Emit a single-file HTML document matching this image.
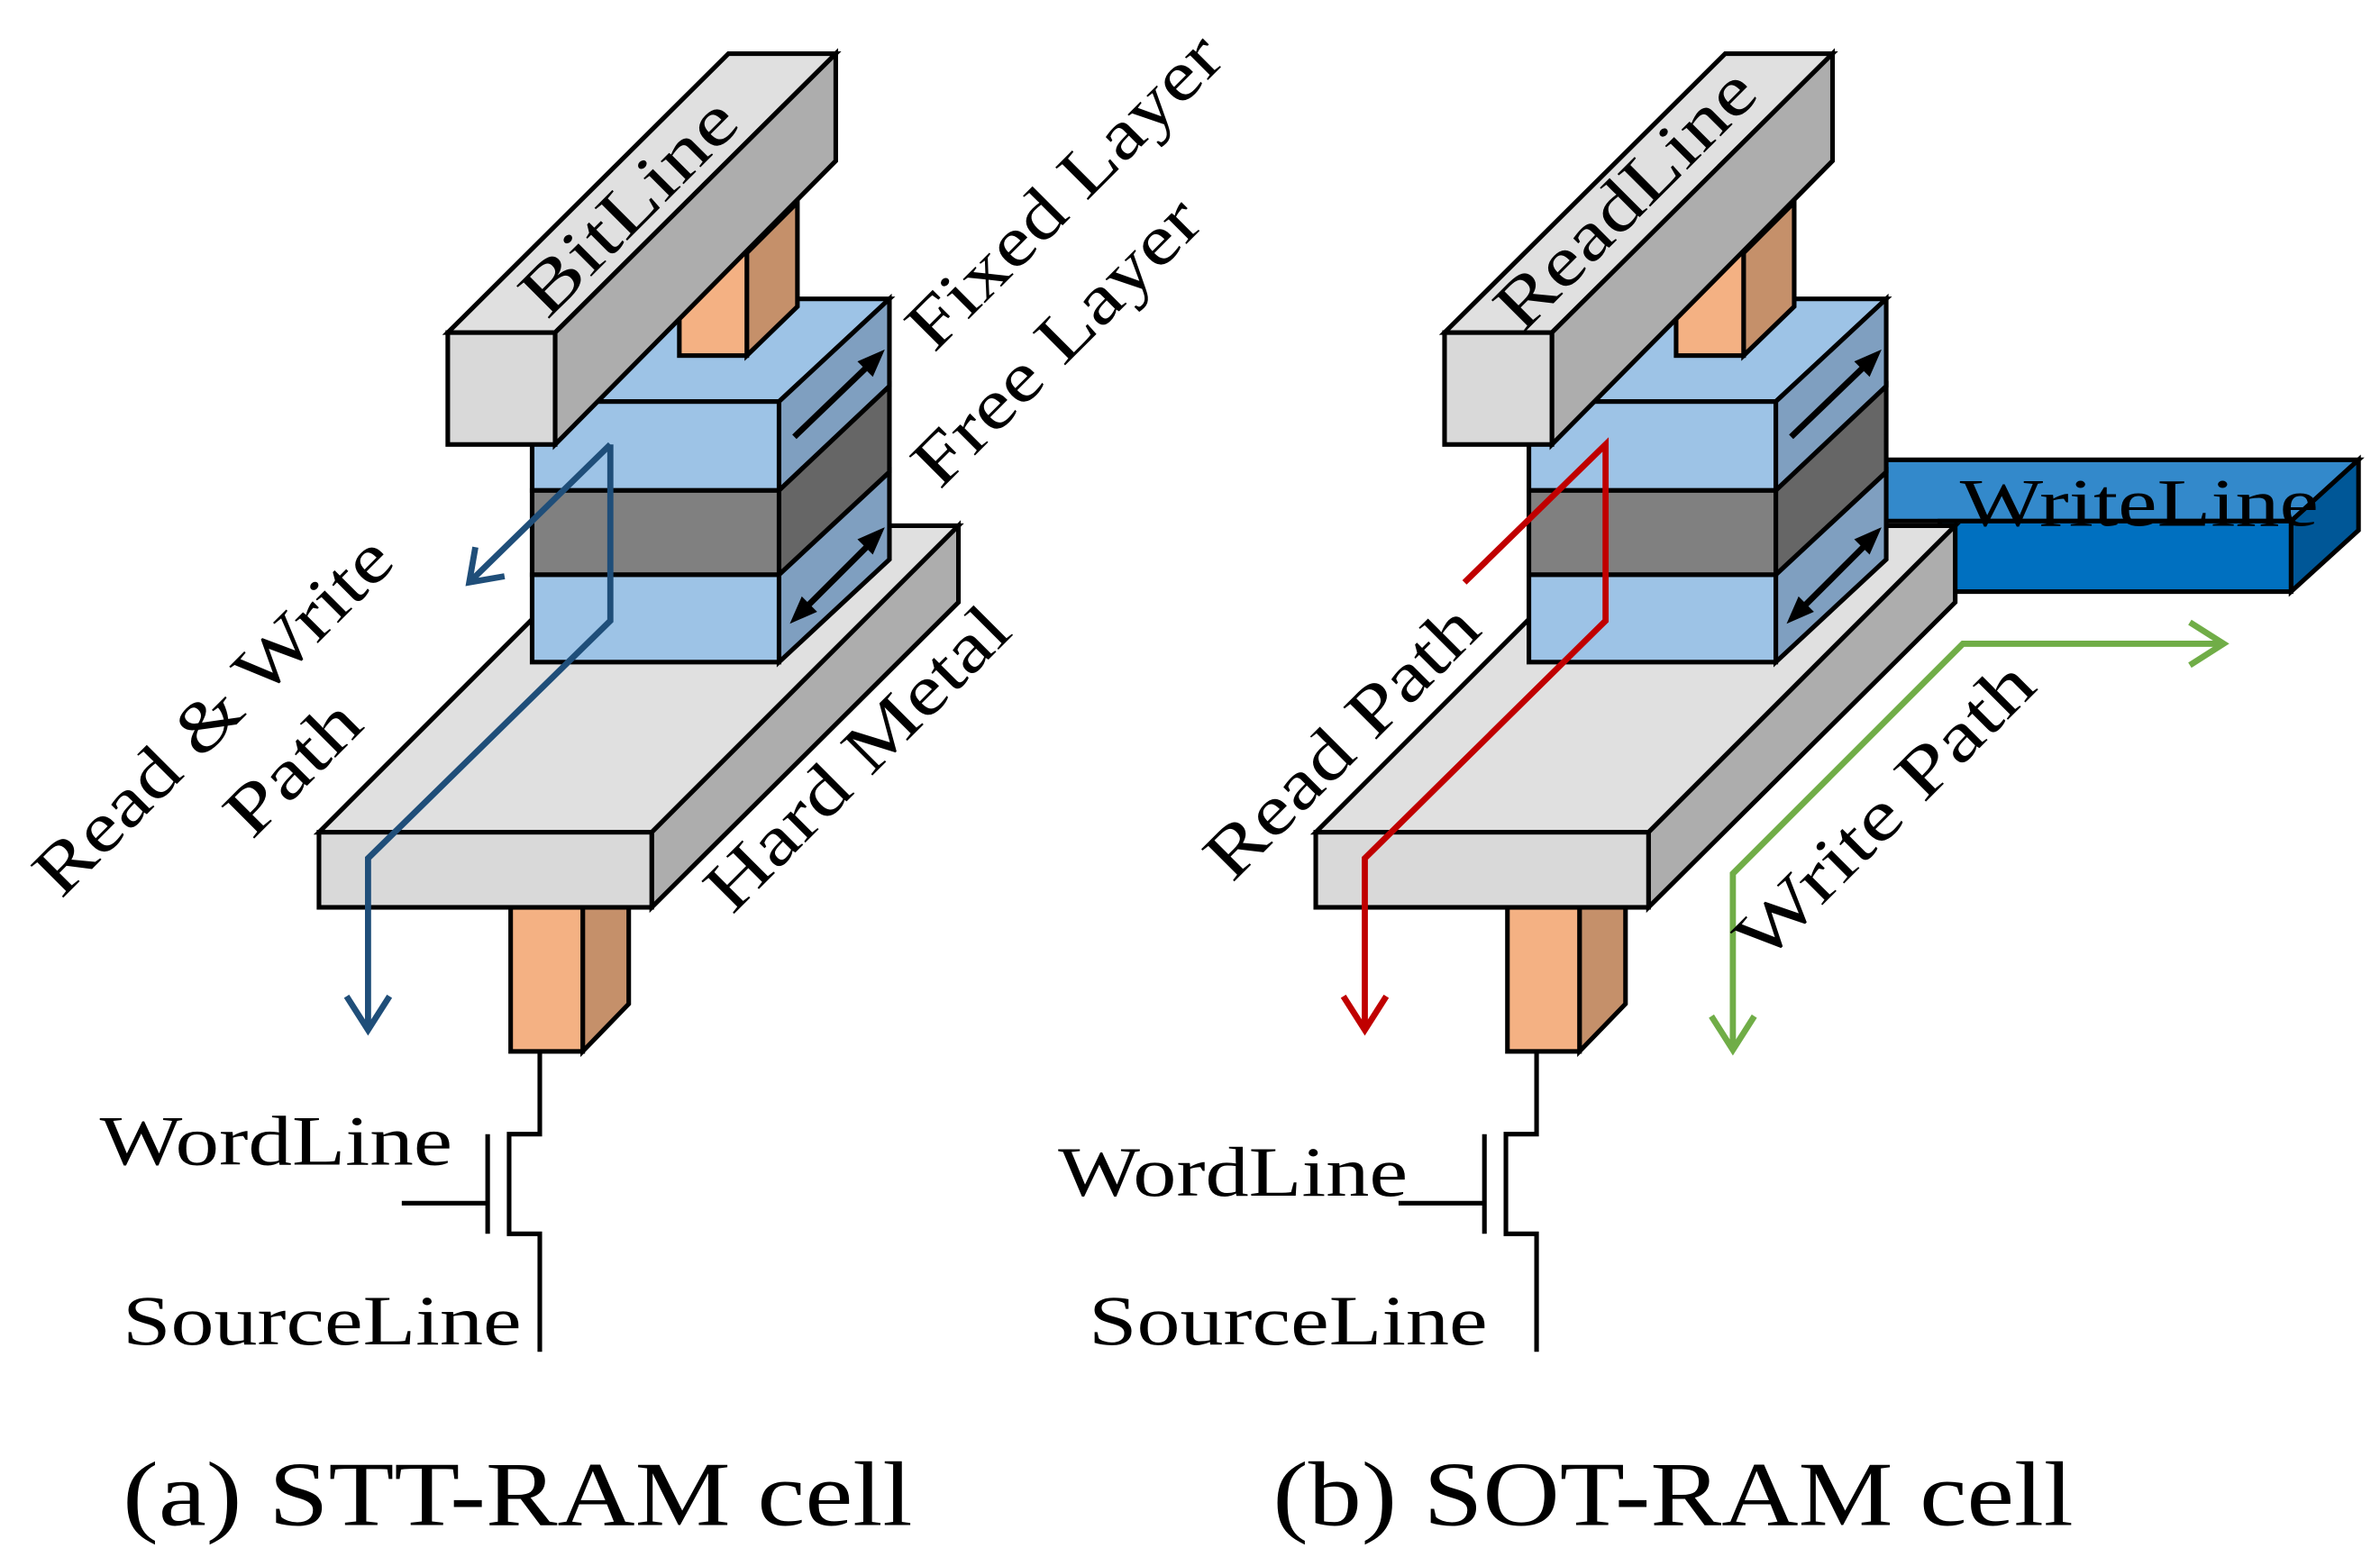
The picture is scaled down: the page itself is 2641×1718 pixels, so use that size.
<!DOCTYPE html>
<html><head><meta charset="utf-8"><style>
html,body{margin:0;padding:0;background:#fff;}
svg{display:block;}
text{font-family:"Liberation Serif",serif;fill:#000;}
</style></head><body>
<svg width="2641" height="1718" viewBox="0 0 1552 1010" preserveAspectRatio="none" xmlns="http://www.w3.org/2000/svg">
<g stroke="#000" stroke-width="3" stroke-linejoin="miter">
<!-- WriteLine (behind) -->
<polygon points="1218,300 1538,300 1494,340 1218,340" fill="#3389cb"/>
<polygon points="1494,340 1538,300 1538,346 1494,386" fill="#005797"/>
<rect x="1265" y="340" width="229" height="46" fill="#0070c0"/>
<!-- ===== LEFT CELL ===== -->
<g id="cell">
<polygon points="380,592 410,562 410,655 380,686" fill="#c5906a"/>
<rect x="333" y="592" width="47" height="94" fill="#f4b183"/>
<polygon points="208,543 425,543 625,343 408,343" fill="#e0e0e0"/>
<polygon points="425,543 625,343 625,393 425,592" fill="#adadad"/>
<rect x="208" y="543" width="217" height="49" fill="#d9d9d9"/>
<polygon points="347,262 508,262 580,195 415,195" fill="#9dc3e6"/>
<polygon points="508,262 580,195 580,252 508,320" fill="#7f9fc0"/>
<polygon points="508,320 580,252 580,308 508,375" fill="#666"/>
<polygon points="508,375 580,308 580,365 508,432" fill="#7f9fc0"/>
<rect x="347" y="262" width="161" height="58" fill="#9dc3e6"/>
<rect x="347" y="320" width="161" height="55" fill="#808080"/>
<rect x="347" y="375" width="161" height="57" fill="#9dc3e6"/>
<polygon points="487,232 520,200 520,132 487,165" fill="#c5906a"/>
<rect x="443" y="165" width="44" height="67" fill="#f4b183"/>
<polygon points="292,217 362,217 545,35 475,35" fill="#e0e0e0"/>
<polygon points="362,217 545,35 545,105 362,290" fill="#adadad"/>
<rect x="292" y="217" width="70" height="73" fill="#d9d9d9"/>
<line x1="518" y1="285" x2="570" y2="235" stroke-width="4"/>
<polygon points="576,229 560,236 569,245" fill="#000" stroke-width="1"/>
<line x1="522" y1="400" x2="572" y2="350" stroke-width="4"/>
<polygon points="576,345 560,352 569,361" fill="#000" stroke-width="1"/>
<polygon points="516,406 532,399 523,390" fill="#000" stroke-width="1"/>
<polyline points="352,686 352,740 332,740 332,805 352,805 352,882" fill="none"/>
<line x1="318" y1="740" x2="318" y2="805"/>
<line x1="262" y1="785" x2="318" y2="785"/>
</g>
<use href="#cell" transform="translate(650,0)"/>
<g fill="none" stroke="#1f4e79" stroke-width="4">
<polyline points="398,290 398,405 240,560 240,672"/>
<polyline points="226,650 240,672 254,650"/>
<line x1="398" y1="290" x2="306" y2="380"/>
<polyline points="310,357 306,380 329,376"/>
</g>
<g fill="none" stroke="#c00000" stroke-width="4">
<polyline points="955,380 1047,290 1047,405 890,560 890,672"/>
<polyline points="876,650 890,672 904,650"/>
</g>
<g fill="none" stroke="#70ad47" stroke-width="4">
<polyline points="1130,685 1130,570 1280,420 1450,420"/>
<polyline points="1116,663 1130,685 1144,663"/>
<polyline points="1428,406 1450,420 1428,434"/>
</g>
</g>
<g font-size="46" lengthAdjust="spacingAndGlyphs">
<text transform="translate(413,138) rotate(-45)" text-anchor="middle" dominant-baseline="middle" textLength="180" lengthAdjust="spacingAndGlyphs">BitLine</text>
<text transform="translate(1063,133) rotate(-45)" text-anchor="middle" dominant-baseline="middle" textLength="220" lengthAdjust="spacingAndGlyphs">ReadLine</text>
<text transform="translate(697,128) rotate(-45)" text-anchor="middle" dominant-baseline="middle" textLength="270" lengthAdjust="spacingAndGlyphs">Fixed Layer</text>
<text transform="translate(692,226) rotate(-45)" text-anchor="middle" dominant-baseline="middle" textLength="245" lengthAdjust="spacingAndGlyphs">Free Layer</text>
<text transform="translate(562,498) rotate(-45)" text-anchor="middle" dominant-baseline="middle" textLength="260" lengthAdjust="spacingAndGlyphs">Hard Metal</text>
<text transform="translate(142,470) rotate(-45)" text-anchor="middle" dominant-baseline="middle" textLength="310" lengthAdjust="spacingAndGlyphs">Read &amp; Write</text>
<text transform="translate(194,504) rotate(-45)" text-anchor="middle" dominant-baseline="middle" textLength="105" lengthAdjust="spacingAndGlyphs">Path</text>
<text transform="translate(878,487) rotate(-45)" text-anchor="middle" dominant-baseline="middle" textLength="232" lengthAdjust="spacingAndGlyphs">Read Path</text>
<text transform="translate(1232,532) rotate(-45)" text-anchor="middle" dominant-baseline="middle" textLength="255" lengthAdjust="spacingAndGlyphs">Write Path</text>
<text x="1278" y="343" font-size="44" textLength="234" lengthAdjust="spacingAndGlyphs">WriteLine</text>
<text x="65" y="760" textLength="230" lengthAdjust="spacingAndGlyphs">WordLine</text>
<text x="80" y="877" textLength="260" lengthAdjust="spacingAndGlyphs">SourceLine</text>
<text x="690" y="780" textLength="228" lengthAdjust="spacingAndGlyphs">WordLine</text>
<text x="710" y="877" textLength="260" lengthAdjust="spacingAndGlyphs">SourceLine</text>
</g>
<text x="80" y="995" font-size="60" textLength="515" lengthAdjust="spacingAndGlyphs">(a) STT-RAM cell</text>
<text x="830" y="995" font-size="60" textLength="522" lengthAdjust="spacingAndGlyphs">(b) SOT-RAM cell</text>
</svg>
</body></html>
